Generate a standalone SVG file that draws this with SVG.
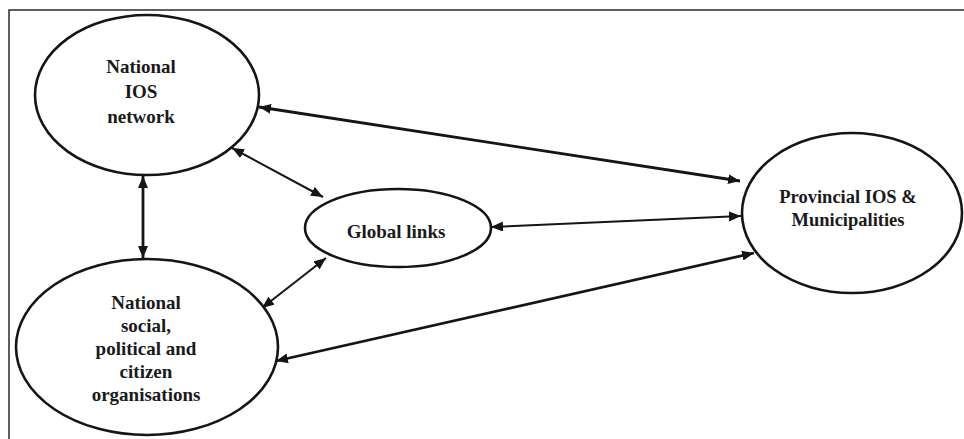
<svg xmlns="http://www.w3.org/2000/svg" width="964" height="439" viewBox="0 0 964 439">
  <style>
    .node ellipse { fill: #ffffff; stroke: #151515; stroke-width: 2.6; }
    .node text { font-family: "Liberation Serif", "Times New Roman", serif; font-weight: bold; font-size: 19px; fill: #1a1a1a; text-anchor: middle; }
    .link { stroke: #151515; fill: none; }
    .thick { stroke-width: 2.8; }
    .thin { stroke-width: 2; }
    .frame { stroke: #2a2a2a; stroke-width: 1.5; fill: none; }
  </style>
  <defs>
    <marker id="head" markerUnits="userSpaceOnUse" viewBox="0 0 12 10" refX="12" refY="5" markerWidth="12" markerHeight="10" orient="auto-start-reverse">
      <path d="M0,0 L12,5 L0,10 Z" fill="#151515"/>
    </marker>
  </defs>

  <rect width="964" height="439" fill="#ffffff"/>
  <!-- outer frame (top and left edges) -->
  <path class="frame" d="M9,439 L9,10 L964,10"/>

  <g id="connectors">
    <line class="link thick" x1="143" y1="176" x2="143" y2="258" marker-start="url(#head)" marker-end="url(#head)"/>
    <line class="link thick" x1="259" y1="107" x2="740" y2="181" marker-start="url(#head)" marker-end="url(#head)"/>
    <line class="link thin" x1="232" y1="148" x2="323" y2="197" marker-start="url(#head)" marker-end="url(#head)"/>
    <line class="link thin" x1="491" y1="227" x2="741" y2="216" marker-start="url(#head)" marker-end="url(#head)"/>
    <line class="link thin" x1="326" y1="258" x2="262" y2="308" marker-start="url(#head)" marker-end="url(#head)"/>
    <line class="link thick" x1="276" y1="361" x2="754" y2="253" marker-start="url(#head)" marker-end="url(#head)"/>
  </g>

  <g id="national-ios" class="node">
    <ellipse cx="147" cy="95" rx="112" ry="80"/>
    <text x="141" y="73">National</text>
    <text x="141" y="98">IOS</text>
    <text x="141" y="123">network</text>
  </g>

  <g id="national-organisations" class="node">
    <ellipse cx="147" cy="347" rx="131" ry="88"/>
    <text x="146" y="309">National</text>
    <text x="146" y="332">social,</text>
    <text x="146" y="355">political and</text>
    <text x="146" y="378">citizen</text>
    <text x="146" y="401">organisations</text>
  </g>

  <g id="global-links" class="node">
    <ellipse cx="398" cy="228" rx="93" ry="39"/>
    <text x="396" y="238">Global links</text>
  </g>

  <g id="provincial" class="node">
    <ellipse cx="852" cy="213" rx="110" ry="80"/>
    <text x="848" y="203" style="font-size:18.5px">Provincial IOS &amp;</text>
    <text x="848" y="226" style="font-size:18.5px">Municipalities</text>
  </g>
</svg>
